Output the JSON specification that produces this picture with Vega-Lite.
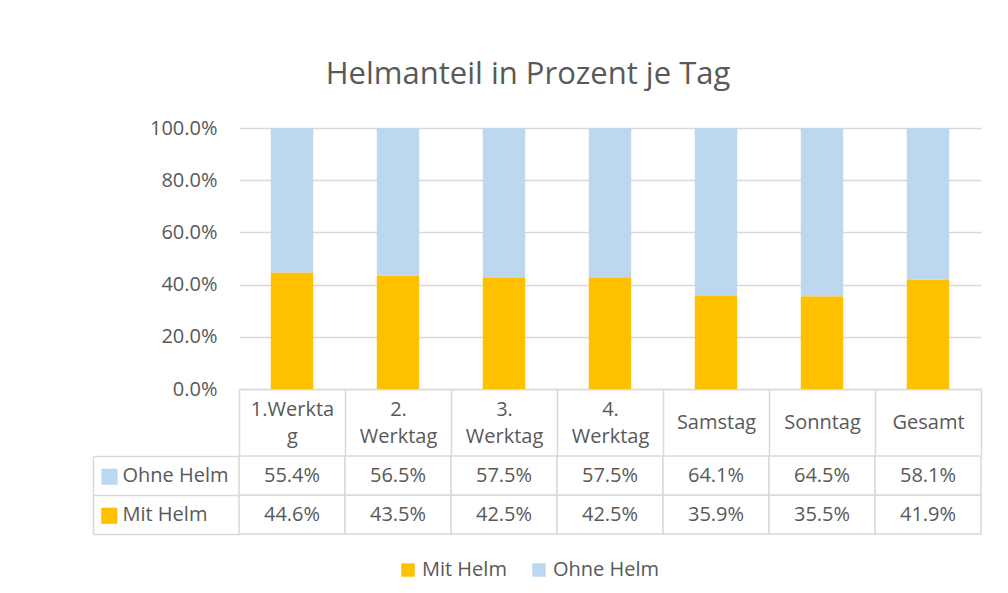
{
  "$schema": "https://vega.github.io/schema/vega-lite/v6.json",
  "background": "white",
  "padding": {"left": 92, "top": 59, "right": 28, "bottom": 10},
  "title": {"text": "Helmanteil in Prozent je Tag", "fontSize": 31, "font": "Open Sans", "fontWeight": "normal", "color": "#595959", "anchor": "middle", "offset": 27, "dx": -9},
  "config": {"font": "Open Sans", "view": {"stroke": null}},
  "datasets": {
    "helm": [
      {"Tag": "1.Werktag", "Art": "Mit Helm", "Anteil": 0.446},
      {"Tag": "1.Werktag", "Art": "Ohne Helm", "Anteil": 0.554},
      {"Tag": "2. Werktag", "Art": "Mit Helm", "Anteil": 0.435},
      {"Tag": "2. Werktag", "Art": "Ohne Helm", "Anteil": 0.565},
      {"Tag": "3. Werktag", "Art": "Mit Helm", "Anteil": 0.425},
      {"Tag": "3. Werktag", "Art": "Ohne Helm", "Anteil": 0.575},
      {"Tag": "4. Werktag", "Art": "Mit Helm", "Anteil": 0.425},
      {"Tag": "4. Werktag", "Art": "Ohne Helm", "Anteil": 0.575},
      {"Tag": "Samstag", "Art": "Mit Helm", "Anteil": 0.359},
      {"Tag": "Samstag", "Art": "Ohne Helm", "Anteil": 0.641},
      {"Tag": "Sonntag", "Art": "Mit Helm", "Anteil": 0.355},
      {"Tag": "Sonntag", "Art": "Ohne Helm", "Anteil": 0.645},
      {"Tag": "Gesamt", "Art": "Mit Helm", "Anteil": 0.419},
      {"Tag": "Gesamt", "Art": "Ohne Helm", "Anteil": 0.581}
    ]
  },
  "spacing": -11,
  "vconcat": [
    {
      "width": 742,
      "height": 261,
      "data": {"name": "helm"},
      "mark": {"type": "bar", "width": {"band": 0.4}},
      "encoding": {
        "x": {
          "field": "Tag", "type": "nominal", "sort": null,
          "scale": {"domain": ["1.Werktag", "2. Werktag", "3. Werktag", "4. Werktag", "Samstag", "Sonntag", "Gesamt"], "paddingInner": 0, "paddingOuter": 0},
          "axis": {
            "title": null, "labelAngle": 0, "domainColor": "#d9d9d9", "domainWidth": 1.5,
            "ticks": true, "tickColor": "#d9d9d9", "tickWidth": 1.5, "tickSize": 66, "tickBand": "extent",
            "labelExpr": "datum.value == null ? '' : datum.value == '1.Werktag' ? ['1.Werkta', 'g'] : split(datum.value, ' ')",
            "labelBaseline": "middle",
            "labelPadding": {"condition": {"test": "datum.value == 'Samstag' || datum.value == 'Sonntag' || datum.value == 'Gesamt'", "value": -33}, "value": -46},
            "labelLineHeight": 27,
            "labelFontSize": 20, "labelColor": "#595959", "labelFont": "Open Sans",
            "minExtent": 66, "maxExtent": 66
          }
        },
        "y": {
          "field": "Anteil", "type": "quantitative", "stack": "zero",
          "scale": {"domain": [0, 1], "nice": false},
          "axis": {
            "title": null, "values": [0, 0.2, 0.4, 0.6, 0.8, 1], "format": ".1%",
            "grid": true, "gridColor": "#d9d9d9", "gridWidth": 1.5, "domain": false, "ticks": false,
            "labelPadding": 22, "labelFontSize": 20, "labelColor": "#595959", "labelFont": "Open Sans",
            "minExtent": 146, "maxExtent": 146
          }
        },
        "color": {
          "field": "Art", "type": "nominal",
          "scale": {"domain": ["Mit Helm", "Ohne Helm"], "range": ["#FFC000", "#BDD7EE"]},
          "legend": {
            "title": null, "orient": "none", "direction": "horizontal", "legendX": 159, "legendY": 432,
            "symbolType": "square", "symbolSize": 180, "symbolStrokeWidth": 0, "symbolOpacity": 1,
            "labelFontSize": 20, "labelColor": "#595959", "labelFont": "Open Sans", "labelOffset": 4, "columnPadding": 22
          }
        },
        "order": {"field": "Art", "sort": "ascending"}
      }
    },
    {
      "width": 742,
      "height": 78,
      "data": {"name": "helm"},
      "encoding": {
        "x": {"field": "Tag", "type": "nominal", "sort": null, "scale": {"domain": ["1.Werktag", "2. Werktag", "3. Werktag", "4. Werktag", "Samstag", "Sonntag", "Gesamt"], "paddingInner": 0, "paddingOuter": 0}, "axis": null}
      },
      "layer": [
        {
          "mark": {"type": "rect", "fill": "white", "stroke": "#d9d9d9", "strokeWidth": 1.5},
          "encoding": {
            "y": {
              "field": "Art", "type": "nominal",
              "scale": {"domain": ["Ohne Helm", "Mit Helm"], "paddingInner": 0, "paddingOuter": 0},
              "axis": {
                "orient": "left", "title": null, "domain": false,
                "ticks": true, "tickBand": "extent", "tickSize": 146, "tickColor": "#d9d9d9", "tickWidth": 1.5,
                "labelExpr": "datum.value == null ? '' : datum.value",
                "labelAlign": "left", "labelBaseline": "middle", "labelPadding": -29,
                "labelFontSize": 20, "labelColor": "#595959", "labelFont": "Open Sans",
                "minExtent": 146, "maxExtent": 146
              }
            }
          }
        },
        {
          "mark": {"type": "text", "fontSize": 20, "color": "#595959", "font": "Open Sans"},
          "encoding": {
            "y": {
              "field": "Art", "type": "nominal",
              "axis": {
                "orient": "left", "title": null, "offset": 146,
                "domain": true, "domainColor": "#d9d9d9", "domainWidth": 1.5,
                "ticks": false,
                "labelExpr": "datum.value == null ? '' : '■'",
                "labelAlign": "center", "labelBaseline": "middle", "labelPadding": -16,
                "labelFontSize": 21, "labelFont": "DejaVu Sans",
                "labelColor": {"condition": {"test": "datum.value == 'Mit Helm'", "value": "#FFC000"}, "value": "#BDD7EE"},
                "minExtent": 0, "maxExtent": 0
              }
            },
            "text": {"field": "Anteil", "type": "quantitative", "format": ".1%"}
          }
        }
      ],
      "resolve": {"axis": {"y": "independent"}}
    }
  ]
}
